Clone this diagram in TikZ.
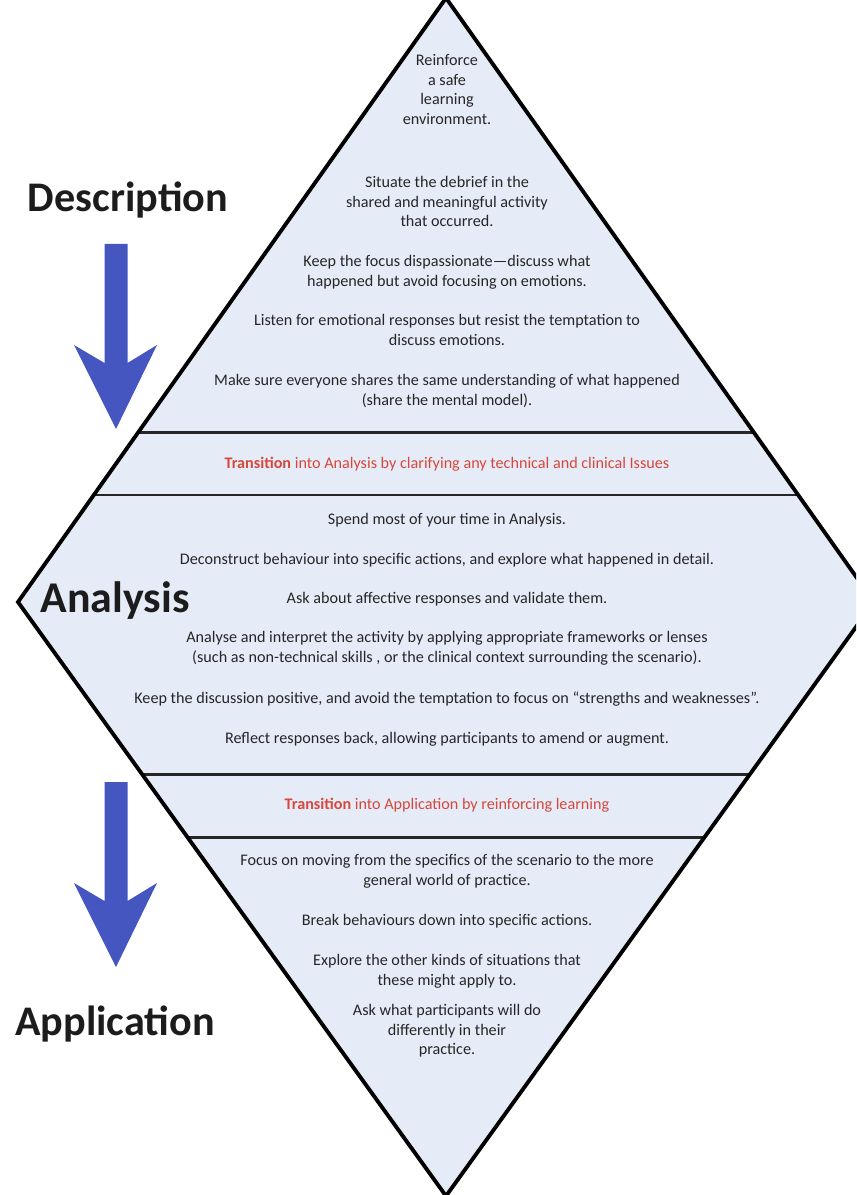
\documentclass[tikz,border=0pt]{standalone}
\usepackage{fontspec}
\setmainfont{Carlito}
\usetikzlibrary{calc}
\definecolor{dfill}{RGB}{230,236,247}
\definecolor{dtext}{RGB}{38,38,38}
\definecolor{dhead}{RGB}{28,28,28}
\definecolor{dred}{RGB}{214,72,60}
\definecolor{dblue}{RGB}{70,86,192}

\begin{document}
\begin{tikzpicture}[
        x={(0.02cm,0cm)}, y={(0cm,-0.02cm)},
        txt/.style={anchor=north, align=center, inner sep=0pt, text=dtext, font=\fontsize{9.2}{11.2}\selectfont},
        trans/.style={anchor=center, inner sep=0pt, text=dred, font=\fontsize{9.2}{11.2}\selectfont},
        head/.style={anchor=base, inner sep=0pt, text=dhead, font=\fontsize{24}{28}\selectfont\bfseries},
        band/.style={line width=1.6pt, draw=black!85},
        edge/.style={line width=2.2pt, line join=miter},
        bigdown/.pic={\fill[dblue] (-11.5,0) -- (11.5,0) -- (11.5,119) -- (41,101) -- (0,185) -- (-42,101) -- (-11.5,119) -- cycle;},
        ]
        \useasboundingbox (0,0) rectangle (856,1195);
        \clip (0,0) rectangle (856,1195);
        \coordinate (top) at (446,-2);
        \coordinate (right) at (874,602);
        \coordinate (bottom) at (446,1196);
        \coordinate (left) at (18,602);
        \fill[dfill] (top) -- (right) -- (bottom) -- (left) -- cycle;
        %
        \coordinate (b1l) at ($(top)!0.720!(left)$);
        \coordinate (b1r) at ($(top)!0.720!(right)$);
        \coordinate (b2l) at ($(top)!0.823!(left)$);
        \coordinate (b2r) at ($(top)!0.823!(right)$);
        \coordinate (b3l) at ($(bottom)!0.709!(left)$);
        \coordinate (b3r) at ($(bottom)!0.709!(right)$);
        \coordinate (b4l) at ($(bottom)!0.604!(left)$);
        \coordinate (b4r) at ($(bottom)!0.604!(right)$);
        \draw[band] (b1l) -- (b1r);
        \draw[band] (b2l) -- (b2r);
        \draw[band] (b3l) -- (b3r);
        \draw[band] (b4l) -- (b4r);
        \draw[edge] (top) -- (right) -- (bottom) -- (left) -- cycle;
        %
        \node[txt] (reinf)  at (447,54)  {Reinforce\\a safe\\learning\\environment.};
        \node[txt] (situ)   at (447,176) {Situate the debrief in the\\shared and meaningful activity\\that occurred.};
        \node[txt] (calm)   at (447,255) {Keep the focus dispassionate—discuss what\\happened but avoid focusing on emotions.};
        \node[txt] (listen) at (447,314) {Listen for emotional responses but resist the temptation to\\discuss emotions.};
        \node[txt] (share)  at (447,374) {Make sure everyone shares the same understanding of what happened\\(share the mental model).};
        \node[trans] (tr1)  at (447,464) {\textbf{Transition} into Analysis by clarifying any technical and clinical Issues};
        %
        \node[txt] (spend)   at (447,513) {Spend most of your time in Analysis.};
        \node[txt] (decon)   at (447,553) {Deconstruct behaviour into specific actions, and explore what happened in detail.};
        \node[txt] (affect)  at (447,592) {Ask about affective responses and validate them.};
        \node[txt] (interp)  at (447,631) {Analyse and interpret the activity by applying appropriate frameworks or lenses\\(such as non-technical skills , or the clinical context surrounding the scenario).};
        \node[txt] (posit)   at (447,691) {Keep the discussion positive, and avoid the temptation to focus on “strengths and weaknesses”.};
        \node[txt] (reflect) at (447,732) {Reflect responses back, allowing participants to amend or augment.};
        \node[trans] (tr2)   at (447,805) {\textbf{Transition} into Application by reinforcing learning};
        %
        \node[txt] (focus)   at (447,854)  {Focus on moving from the specifics of the scenario to the more\\general world of practice.};
        \node[txt] (brk)     at (447,914)  {Break behaviours down into specific actions.};
        \node[txt] (explore) at (447,954)  {Explore the other kinds of situations that\\these might apply to.};
        \node[txt] (askwhat) at (447,1004) {Ask what participants will do\\differently in their\\practice.};
        %
        \node[head] (desc) at (128,212) {Description};
        \node[head, font=\fontsize{25}{30}\selectfont\bfseries] (anal) at (115,612) {Analysis};
        \node[head] (appl) at (115,1035) {Application};
        \pic at (116,244) {bigdown};
        \pic at (116,782) {bigdown};
\end{tikzpicture}
\end{document}
